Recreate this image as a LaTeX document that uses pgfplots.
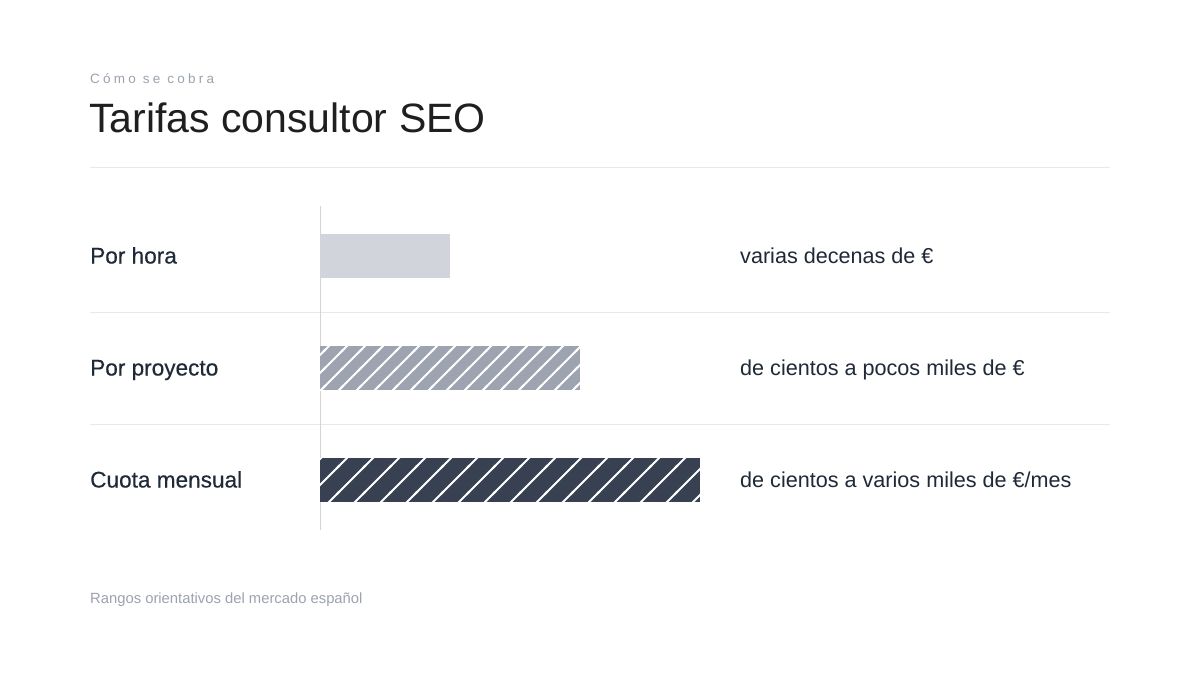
\documentclass[border=0pt]{standalone}
\usepackage{fontspec}
\setmainfont{Liberation Sans}
\usepackage{pgfplots}
\pgfplotsset{compat=1.18}
\usetikzlibrary{patterns}

\definecolor{barlight}{HTML}{D1D5DB}
\definecolor{barmid}{HTML}{9EA4AF}
\definecolor{bardark}{HTML}{374151}
\definecolor{txtdark}{HTML}{1F2937}
\definecolor{txtgray}{HTML}{9CA3AF}
\definecolor{rulecol}{HTML}{E7E8EB}
\definecolor{axiscol}{HTML}{D4D4D4}

% seamless diagonal stripes, d = horizontal pitch
\newcommand\stripepattern[2]{%
  \pgfdeclarepatternformonly{#1}{\pgfpoint{-1pt}{-1pt}}{\pgfpoint{#2+1pt}{#2+1pt}}{\pgfpoint{#2}{#2}}{%
    \pgfsetlinewidth{1.8pt}%
    \pgfpathmoveto{\pgfpoint{-2pt}{-2pt}}\pgfpathlineto{\pgfpoint{#2+2pt}{#2+2pt}}%
    \pgfpathmoveto{\pgfpoint{-2pt}{#2-2pt}}\pgfpathlineto{\pgfpoint{2pt}{#2+2pt}}%
    \pgfpathmoveto{\pgfpoint{#2-2pt}{-2pt}}\pgfpathlineto{\pgfpoint{#2+2pt}{2pt}}%
    \pgfusepath{stroke}}}
\stripepattern{stripesA}{18pt}
\stripepattern{stripesB}{26pt}

\begin{document}
\begin{tikzpicture}
% canvas: 1pt = 1px of the reference
\fill[white] (0,0) rectangle (1200pt,675pt);

% header
\node[anchor=base west, inner sep=0, text=txtgray,
      font=\fontsize{13.5}{15}\selectfont\addfontfeature{LetterSpace=24}]
  at (90pt,591pt) {Cómo se cobra};
\node[anchor=base west, inner sep=0, text=black!88,
      font=\fontsize{41}{48}\selectfont]
  at (89pt,542pt) {Tarifas consultor SEO};
\draw[rulecol, line width=1pt] (90pt,507pt) -- (1110pt,507pt);

% footnote
\node[anchor=base west, inner sep=0, text=txtgray,
      font=\fontsize{14.8}{17}\selectfont]
  at (90pt,71pt) {Rangos orientativos del mercado español};

\begin{axis}[
    at={(320pt,139pt)}, anchor=south west,
    scale only axis,
    width=790pt, height=336pt,
    xmin=0, xmax=790,
    ymin=-0.5, ymax=2.5,
    y dir=reverse,
    hide axis,
    clip=false,
    xbar, bar width=44pt, bar shift=0pt,
]
% row separators and baseline
\draw[rulecol, line width=1pt] (axis cs:-230,0.5) -- (axis cs:790,0.5);
\draw[rulecol, line width=1pt] (axis cs:-230,1.5) -- (axis cs:790,1.5);
\draw[axiscol, line width=1pt] (axis cs:0,-0.446) -- (axis cs:0,2.446);

\addplot[fill=barlight, draw=none] coordinates {(130,0)};
\addplot[fill=barmid, draw=none,
    postaction={pattern=stripesA, pattern color=white}] coordinates {(260,1)};
\addplot[fill=bardark, draw=none,
    postaction={pattern=stripesB, pattern color=white}] coordinates {(380,2)};

% category labels
\foreach \lab/\row in {Por hora/0, Por proyecto/1, Cuota mensual/2}{
  \edef\temp{\noexpand\node[anchor=base west, inner sep=0, text=txtdark,
      font=\noexpand\fontsize{22.6}{26}\noexpand\selectfont\noexpand\addfontfeature{FakeBold=0.4}, yshift=-7.5pt]
      at (axis cs:-230,\row) {\lab};}
  \temp
}
% value labels
\node[anchor=base west, inner sep=0, text=txtdark, font=\fontsize{21.6}{25}\selectfont, yshift=-7.5pt]
  at (axis cs:420,0) {varias decenas de €};
\node[anchor=base west, inner sep=0, text=txtdark, font=\fontsize{21.6}{25}\selectfont, yshift=-7.5pt]
  at (axis cs:420,1) {de cientos a pocos miles de €};
\node[anchor=base west, inner sep=0, text=txtdark, font=\fontsize{21.6}{25}\selectfont, yshift=-7.5pt]
  at (axis cs:420,2) {de cientos a varios miles de €/mes};
\end{axis}
\end{tikzpicture}
\end{document}
